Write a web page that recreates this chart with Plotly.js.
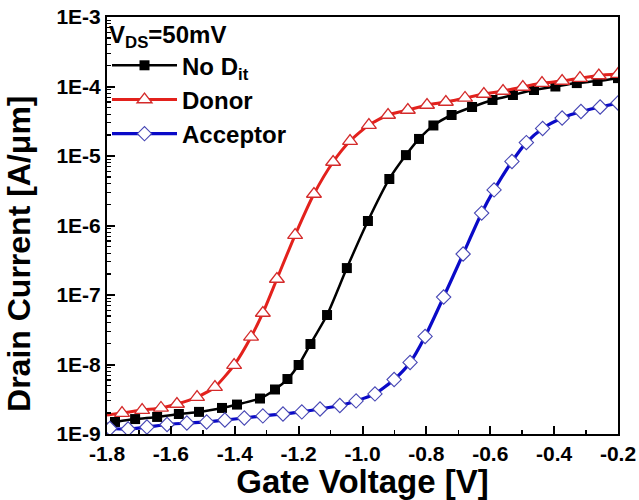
<!DOCTYPE html>
<html>
<head>
<meta charset="utf-8">
<script src="https://cdn.plot.ly/plotly-3.0.1.min.js"></script>
<style>html,body{margin:0;padding:0;background:#fff;}#chart{width:639px;height:500px;}</style>
</head>
<body>
<div id="chart"></div>
<script>
// ---- Data ----
const noDitV = [-1.8, -1.775, -1.712, -1.643, -1.575, -1.512, -1.440, -1.393, -1.321, -1.274, -1.235, -1.200, -1.163, -1.111, -1.049, -0.983, -0.916, -0.864, -0.823, -0.778, -0.721, -0.657, -0.593, -0.529, -0.463, -0.396, -0.329, -0.264, -0.2];
const noDitI = [1.39e-9, 1.49e-9, 1.64e-9, 1.76e-9, 1.94e-9, 2.08e-9, 2.37e-9, 2.65e-9, 3.24e-9, 4.37e-9, 6.18e-9, 9.84e-9, 1.97e-8, 5.15e-8, 2.44e-7, 1.16e-6, 4.67e-6, 1.03e-5, 1.76e-5, 2.75e-5, 3.89e-5, 5.07e-5, 6.40e-5, 7.55e-5, 8.91e-5, 1.00e-4, 1.12e-4, 1.20e-4, 1.32e-4];

const donorV = [-1.8, -1.753, -1.690, -1.631, -1.581, -1.518, -1.462, -1.402, -1.349, -1.312, -1.268, -1.211, -1.152, -1.092, -1.039, -0.980, -0.920, -0.858, -0.798, -0.739, -0.679, -0.620, -0.560, -0.498, -0.438, -0.375, -0.319, -0.260, -0.2];
const donorI = [1.87e-9, 2.00e-9, 2.21e-9, 2.37e-9, 2.70e-9, 3.40e-9, 4.74e-9, 9.8e-9, 2.49e-8, 5.51e-8, 1.70e-7, 7.29e-7, 2.84e-6, 8.20e-6, 1.64e-5, 2.79e-5, 3.89e-5, 4.59e-5, 5.42e-5, 5.98e-5, 6.84e-5, 7.80e-5, 8.61e-5, 9.84e-5, 1.12e-4, 1.20e-4, 1.32e-4, 1.44e-4, 1.51e-4];

const acceptorV = [-1.791, -1.734, -1.675, -1.612, -1.550, -1.488, -1.431, -1.370, -1.312, -1.249, -1.190, -1.133, -1.071, -1.020, -0.961, -0.901, -0.851, -0.804, -0.746, -0.685, -0.627, -0.588, -0.532, -0.487, -0.436, -0.375, -0.316, -0.256, -0.2];
const acceptorI = [1.20e-9, 1.18e-9, 1.26e-9, 1.37e-9, 1.44e-9, 1.49e-9, 1.59e-9, 1.70e-9, 1.82e-9, 1.94e-9, 2.08e-9, 2.29e-9, 2.57e-9, 2.99e-9, 3.77e-9, 6.08e-9, 1.07e-8, 2.53e-8, 9.35e-8, 3.89e-7, 1.51e-6, 3.25e-6, 8.34e-6, 1.56e-5, 2.49e-5, 3.52e-5, 4.37e-5, 5.07e-5, 5.79e-5];

const xTickVals = [-1.8, -1.6, -1.4, -1.2, -1.0, -0.8, -0.6, -0.4, -0.2];
const xTickLabels = ['-1.8', '-1.6', '-1.4', '-1.2', '-1.0', '-0.8', '-0.6', '-0.4', '-0.2'];
const yTickVals = [1e-9, 1e-8, 1e-7, 1e-6, 1e-5, 1e-4, 1e-3];
const yTickLabels = ['1E-9', '1E-8', '1E-7', '1E-6', '1E-5', '1E-4', '1E-3'];
const yTitleText = 'Drain Current [A/\u03bcm]';

// ---- Styling ----
const FONT = 'Liberation Sans, Arial, sans-serif';

const blackLine = {color: '#000000', width: 2.5, shape: 'spline', smoothing: 0.6};
const redLine = {color: '#e3211c', width: 3, shape: 'spline', smoothing: 0.6};
const blueLine = {color: '#0a0ac8', width: 3.2, shape: 'spline', smoothing: 0.6};

const traces = [
  // short line-only lead-in from the axis (first point has no visible marker)
  {x: noDitV.slice(0, 2), y: noDitI.slice(0, 2), mode: 'lines', line: blackLine, showlegend: false},
  {x: donorV.slice(0, 2), y: donorI.slice(0, 2), mode: 'lines', line: redLine, showlegend: false},
  {
    x: noDitV.slice(1), y: noDitI.slice(1), name: 'No D<sub>it</sub>', mode: 'lines+markers', legendgroup: 'a',
    line: blackLine,
    marker: {symbol: 'square', size: 10, color: '#000000'}
  },
  {
    x: donorV.slice(1), y: donorI.slice(1), name: 'Donor', mode: 'lines+markers', legendgroup: 'b',
    line: redLine,
    marker: {symbol: 'triangle-up', size: 13, color: '#ffffff', line: {color: '#d42a2a', width: 1.3}}
  },
  {
    x: acceptorV, y: acceptorI, name: 'Acceptor', mode: 'lines+markers', legendgroup: 'c',
    line: blueLine,
    marker: {symbol: 'diamond', size: 11, color: '#ffffff', line: {color: '#4646b4', width: 1.1}}
  }
];

const layout = {
  width: 639, height: 500,
  margin: {l: 107, r: 21, t: 17, b: 66},
  paper_bgcolor: '#ffffff', plot_bgcolor: '#ffffff',
  font: {family: FONT, color: '#000000', weight: 'bold'},
  showlegend: true,
  legend: {
    x: 0.0, y: 1.012, xanchor: 'left', yanchor: 'top',
    bgcolor: 'rgba(0,0,0,0)', borderwidth: 0,
    font: {family: FONT, size: 24, weight: 'bold', color: '#000'},
    title: {text: 'V<sub>DS</sub>=50mV', font: {family: FONT, size: 24, weight: 'bold', color: '#000'}},
    itemwidth: 65, itemsizing: 'trace', tracegroupgap: 0
  },
  xaxis: {
    range: [-1.8, -0.2], showgrid: false, zeroline: false,
    showline: true, linecolor: '#000', linewidth: 2, mirror: true,
    ticks: 'inside', ticklen: 8, tickwidth: 2, tickcolor: '#000',
    tickmode: 'array', tickvals: xTickVals, ticktext: xTickLabels,
    minor: {ticks: 'inside', ticklen: 4, tickwidth: 1.5, tickcolor: '#000', dtick: 0.1, tick0: -1.8, showgrid: false},
    tickfont: {family: FONT, size: 21, weight: 'bold', color: '#000'},
    title: {text: 'Gate Voltage [V]', font: {family: FONT, size: 33, weight: 'bold', color: '#000'}, standoff: 2}
  },
  yaxis: {
    type: 'log', range: [-9, -3], showgrid: false, zeroline: false,
    showline: true, linecolor: '#000', linewidth: 2, mirror: true,
    ticks: 'inside', ticklen: 8, tickwidth: 2, tickcolor: '#000',
    tickmode: 'array', tickvals: yTickVals, ticktext: yTickLabels,
    minor: {ticks: 'inside', ticklen: 4, tickwidth: 1.2, tickcolor: '#000', dtick: 'D1', showgrid: false},
    tickfont: {family: FONT, size: 21, weight: 'bold', color: '#000'}
  },
  annotations: [{
    text: yTitleText, textangle: -90, showarrow: false,
    xref: 'paper', yref: 'paper', x: -0.172, y: 0.432, xanchor: 'center', yanchor: 'middle',
    font: {family: FONT, size: 32, weight: 'bold', color: '#000'}
  }]
};

Plotly.newPlot('chart', traces, layout, {displayModeBar: false, staticPlot: true});
</script>
</body>
</html>
